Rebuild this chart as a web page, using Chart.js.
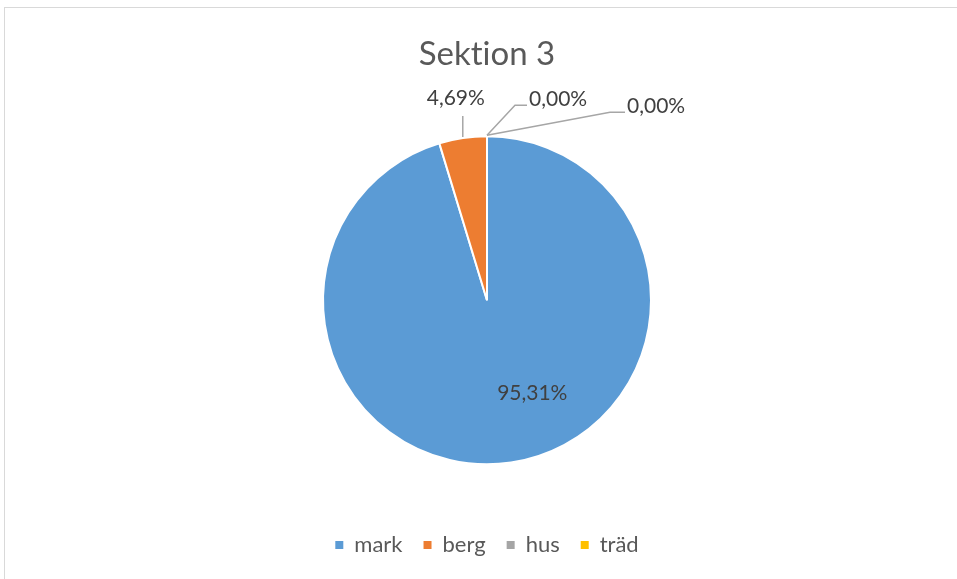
<!DOCTYPE html>
<html>
<head>
<meta charset="utf-8">
<script src="https://cdn.jsdelivr.net/npm/chart.js@4.4.0/dist/chart.umd.min.js"></script>
<style>
    html, body { margin: 0; padding: 0; background: #fff; overflow: hidden; }
    #ram { position: absolute; left: 4px; top: 7px; width: 1200px; height: 800px; border-top: 1px solid #d9d9d9; border-left: 1px solid #d9d9d9; }
    #yta { position: absolute; left: 0; top: 0; width: 957px; height: 600px; }
</style>
</head>
<body>
<div id="ram"></div>
<div id="yta"><canvas id="grafico_sektion"></canvas></div>
<script>
var kategorier = ['mark', 'berg', 'hus', 'träd'];
var andelar = [95.31, 4.69, 0, 0];
var farger = ['#5b9bd5', '#ed7d31', '#a5a5a5', '#ffc000'];

// etiketter med hänvisningslinjer (dx/dy = knäpunkt från kanten, h = vågrät del)
var placering = [
    { inne: true, vinkel: 64, andel: 0.63 },
    { dx: 0, dy: -21, h: 0, tx: -7, ty: -11, justera: 'center' },
    { dx: 28, dy: -30, h: 12, tx: 2, ty: 1, justera: 'left' },
    { dx: 123, dy: -23, h: 15, tx: 2, ty: 1, justera: 'left' }
];

var etiketter = {
    id: 'etiketter',
    afterDatasetsDraw: function (chart) {
        var ctx = chart.ctx;
        var meta = chart.getDatasetMeta(0);
        ctx.save();
        ctx.font = '21px Lato';
        ctx.fillStyle = '#404040';
        ctx.textBaseline = 'alphabetic';
        meta.data.forEach(function (arc, i) {
            var text = andelar[i].toFixed(2).replace('.', ',') + '%';
            var p = placering[i];
            var r = arc.outerRadius;
            if (p.inne) {
                var a = p.vinkel * Math.PI / 180;
                ctx.textAlign = 'center';
                ctx.textBaseline = 'middle';
                ctx.fillText(text, arc.x + Math.cos(a) * r * p.andel, arc.y + Math.sin(a) * r * p.andel);
                ctx.textBaseline = 'alphabetic';
                return;
            }
            var mid = (arc.startAngle + arc.endAngle) / 2;
            var sx = arc.x + Math.cos(mid) * (r + 1);
            var sy = arc.y + Math.sin(mid) * (r + 1);
            var kx = sx + p.dx, ky = sy + p.dy;
            var ex = kx + p.h;
            ctx.strokeStyle = '#a6a6a6';
            ctx.lineWidth = 1.5;
            ctx.beginPath();
            ctx.moveTo(sx, sy);
            ctx.lineTo(kx, ky);
            ctx.lineTo(ex, ky);
            ctx.stroke();
            ctx.textAlign = p.justera;
            ctx.fillText(text, ex + p.tx, ky + p.ty);
        });
        ctx.restore();
    }
};

function rita() {
    var ctx = document.getElementById('grafico_sektion').getContext('2d');
    new Chart(ctx, {
        type: 'pie',
        data: {
            labels: kategorier,
            datasets: [{
                data: andelar,
                backgroundColor: farger,
                borderColor: '#ffffff',
                borderWidth: 2
            }]
        },
        options: {
            responsive: true,
            maintainAspectRatio: false,
            animation: false,
            radius: 164,
            layout: { padding: { top: 0, left: 17, right: 0, bottom: 34 } },
            plugins: {
                title: {
                    display: true,
                    // \u200c hindrar att "ti" blir en ligatur
                    text: 'Sekt\u200cion 3',
                    color: '#595959',
                    font: { family: 'Lato', size: 33, weight: 'normal' },
                    padding: { top: 35, bottom: 13 }
                },
                legend: {
                    position: 'bottom',
                    labels: {
                        boxWidth: 8,
                        boxHeight: 8,
                        padding: 21,
                        color: '#595959',
                        font: { family: 'Lato', size: 22 },
                        generateLabels: function (chart) {
                            var items = Chart.overrides.doughnut.plugins.legend.labels.generateLabels(chart);
                            items.forEach(function (it) { it.lineWidth = 0; it.strokeStyle = it.fillStyle; });
                            return items;
                        }
                    }
                },
                tooltip: { enabled: false }
            }
        },
        plugins: [etiketter]
    });
}

document.fonts.load('21px Lato').then(rita, rita);
</script>
</body>
</html>
